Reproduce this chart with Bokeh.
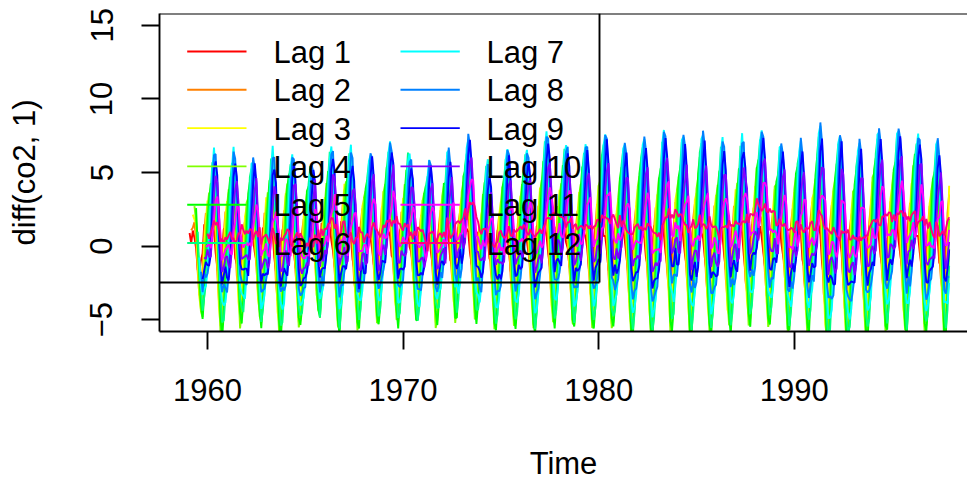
import numpy as np
from bokeh.plotting import figure
from bokeh.models import Range1d, FixedTicker, Span
from bokeh.core.properties import value
from bokeh.embed import file_html
from bokeh.resources import INLINE

# ---- data: monthly CO2 (ppm), Mauna Loa, read per year ----
co2_1959 = [315.42, 316.31, 316.50, 317.56, 318.13, 318.00, 316.39, 314.65, 313.68, 313.18, 314.66, 315.43]
co2_1960 = [316.27, 316.81, 317.42, 318.87, 319.87, 319.43, 318.01, 315.74, 314.00, 313.68, 314.84, 316.03]
co2_1961 = [316.73, 317.54, 318.38, 319.31, 320.42, 319.61, 318.42, 316.63, 314.83, 315.16, 315.94, 316.85]
co2_1962 = [317.78, 318.40, 319.53, 320.42, 320.85, 320.45, 319.45, 317.25, 316.11, 315.27, 316.53, 317.53]
co2_1963 = [318.58, 318.92, 319.70, 321.22, 322.08, 321.31, 319.58, 317.61, 316.05, 315.83, 316.91, 318.20]
co2_1964 = [319.41, 320.07, 320.74, 321.40, 322.06, 321.73, 320.27, 318.54, 316.54, 316.71, 317.53, 318.55]
co2_1965 = [319.27, 320.28, 320.73, 321.97, 322.00, 321.71, 321.05, 318.71, 317.66, 317.14, 318.70, 319.25]
co2_1966 = [320.46, 321.43, 322.23, 323.54, 323.91, 323.59, 322.24, 320.20, 318.48, 317.94, 319.63, 320.87]
co2_1967 = [322.17, 322.34, 322.88, 324.25, 324.83, 323.93, 322.38, 320.76, 319.10, 319.24, 320.56, 321.80]
co2_1968 = [322.40, 322.99, 323.73, 324.86, 325.40, 325.20, 323.98, 321.95, 320.18, 320.09, 321.16, 322.74]
co2_1969 = [323.83, 324.26, 325.47, 326.50, 327.21, 326.54, 325.72, 323.50, 322.22, 321.62, 322.69, 323.95]
co2_1970 = [324.89, 325.82, 326.77, 327.97, 327.91, 327.50, 326.18, 324.53, 322.93, 322.90, 323.85, 324.96]
co2_1971 = [326.01, 326.51, 327.01, 327.62, 328.76, 328.40, 327.20, 325.27, 323.20, 323.40, 324.63, 325.85]
co2_1972 = [326.60, 327.47, 327.58, 329.56, 329.90, 328.92, 327.88, 326.16, 324.68, 325.04, 326.34, 327.39]
co2_1973 = [328.37, 329.40, 330.14, 331.33, 332.31, 331.90, 330.70, 329.15, 327.35, 327.02, 327.99, 328.48]
co2_1974 = [329.18, 330.55, 331.32, 332.48, 332.92, 332.08, 331.01, 329.23, 327.27, 327.21, 328.29, 329.41]
co2_1975 = [330.23, 331.25, 331.87, 333.14, 333.80, 333.43, 331.73, 329.90, 328.40, 328.17, 329.32, 330.59]
co2_1976 = [331.58, 332.39, 333.33, 334.41, 334.71, 334.17, 332.89, 330.77, 329.14, 328.78, 330.14, 331.52]
co2_1977 = [332.75, 333.24, 334.53, 335.90, 336.57, 336.10, 334.76, 332.59, 331.42, 330.98, 332.24, 333.68]
co2_1978 = [334.80, 335.22, 336.47, 337.59, 337.84, 337.72, 336.37, 334.51, 332.60, 332.38, 333.75, 334.78]
co2_1979 = [336.05, 336.59, 337.79, 338.71, 339.30, 339.12, 337.56, 335.92, 333.75, 333.70, 335.12, 336.56]
co2_1980 = [337.84, 338.19, 339.91, 340.60, 341.29, 341.00, 339.39, 337.43, 335.72, 335.84, 336.93, 338.04]
co2_1981 = [339.06, 340.30, 341.21, 342.33, 342.74, 342.08, 340.32, 338.26, 336.52, 336.68, 338.19, 339.44]
co2_1982 = [340.57, 341.44, 342.53, 343.39, 343.96, 343.18, 341.88, 339.65, 337.81, 337.69, 339.09, 340.32]
co2_1983 = [341.20, 342.35, 342.93, 344.77, 345.58, 345.14, 343.81, 342.21, 339.69, 339.82, 340.98, 342.82]
co2_1984 = [343.52, 344.33, 345.11, 346.88, 347.25, 346.62, 345.22, 343.11, 340.90, 341.18, 342.80, 344.04]
co2_1985 = [344.79, 345.82, 347.25, 348.17, 348.74, 348.07, 346.38, 344.51, 342.92, 342.62, 344.06, 345.38]
co2_1986 = [346.11, 346.78, 347.68, 349.37, 350.03, 349.37, 347.76, 345.73, 344.68, 343.99, 345.48, 346.72]
co2_1987 = [347.84, 348.29, 349.23, 350.80, 351.66, 351.07, 349.33, 347.92, 346.27, 346.18, 347.64, 348.78]
co2_1988 = [350.25, 351.54, 352.05, 353.41, 354.04, 353.62, 352.22, 350.27, 348.55, 348.72, 349.91, 351.18]
co2_1989 = [352.60, 352.92, 353.53, 355.26, 355.52, 354.97, 353.75, 351.52, 349.64, 349.83, 351.14, 352.37]
co2_1990 = [353.50, 354.55, 355.23, 356.04, 357.00, 356.07, 354.67, 352.76, 350.82, 351.04, 352.69, 354.07]
co2_1991 = [354.59, 355.63, 357.03, 358.48, 359.22, 358.12, 356.06, 353.92, 352.05, 352.11, 353.64, 354.89]
co2_1992 = [355.88, 356.63, 357.72, 359.07, 359.58, 359.17, 356.94, 354.92, 352.94, 353.23, 354.09, 355.33]
co2_1993 = [356.63, 357.10, 358.32, 359.41, 360.23, 359.55, 357.53, 355.48, 353.67, 353.95, 355.30, 356.78]
co2_1994 = [358.34, 358.89, 359.95, 361.25, 361.67, 360.94, 359.55, 357.49, 355.84, 356.00, 357.59, 359.05]
co2_1995 = [359.98, 361.03, 361.66, 363.48, 363.82, 363.30, 361.94, 359.50, 358.11, 357.80, 359.61, 360.74]
co2_1996 = [362.09, 363.29, 364.06, 364.76, 365.45, 365.01, 363.70, 361.54, 359.51, 359.65, 360.80, 362.38]
co2_1997 = [363.23, 364.06, 364.61, 366.40, 366.84, 365.68, 364.52, 362.57, 360.24, 360.83, 362.49, 364.34]

start_year = 1959
lags = [1, 2, 3, 4, 5, 6, 7, 8, 9, 10, 11, 12]
lag_labels = ["Lag 1", "Lag 2", "Lag 3", "Lag 4", "Lag 5", "Lag 6",
              "Lag 7", "Lag 8", "Lag 9", "Lag 10", "Lag 11", "Lag 12"]
lag_colors = ["#FF0000", "#FF8000", "#FFFF00", "#80FF00", "#00FF00", "#00FF80",
              "#00FFFF", "#0080FF", "#0000FF", "#8000FF", "#FF00FF", "#FF0080"]
x_ticks = [1960, 1970, 1980, 1990]
y_ticks = [-5, 0, 5, 10, 15]
y_tick_labels = ["\u22125", "0", "5", "10", "15"]
x_title = "Time"
y_title = "diff(co2, 1)"

co2 = np.array(co2_1959 + co2_1960 + co2_1961 + co2_1962 + co2_1963 + co2_1964 +
               co2_1965 + co2_1966 + co2_1967 + co2_1968 + co2_1969 + co2_1970 +
               co2_1971 + co2_1972 + co2_1973 + co2_1974 + co2_1975 + co2_1976 +
               co2_1977 + co2_1978 + co2_1979 + co2_1980 + co2_1981 + co2_1982 +
               co2_1983 + co2_1984 + co2_1985 + co2_1986 + co2_1987 + co2_1988 +
               co2_1989 + co2_1990 + co2_1991 + co2_1992 + co2_1993 + co2_1994 +
               co2_1995 + co2_1996 + co2_1997)
n = len(co2)

# ---- layout ----
W, H = 967, 483
BL, BR, BT, BB = 159, 0, 13, 152
X0 = 1957.5467
PX_PER_YEAR = 19.56
X1 = X0 + (W - BL - BR) / PX_PER_YEAR
Y0, Y1 = -5.8, 15.8
FRAME_H = H - BT - BB

def px2x(px):
    return X0 + (px - BL) / PX_PER_YEAR

def py2y(py):
    return Y1 - (py - BT) * (Y1 - Y0) / FRAME_H

FONT = "Liberation Sans"
FS = "31px"
LW = 1.9

p = figure(width=W, height=H, x_range=Range1d(X0, X1), y_range=Range1d(Y0, Y1),
           output_backend="svg", toolbar_location=None,
           min_border_left=BL, min_border_right=BR, min_border_top=BT, min_border_bottom=BB,
           outline_line_color=None, background_fill_color="white", border_fill_color="white")
p.grid.visible = False

for ax in (p.xaxis[0], p.yaxis[0]):
    ax.axis_line_color = "black"
    ax.axis_line_width = LW
    ax.major_tick_line_color = "black"
    ax.major_tick_line_width = LW
    ax.major_tick_out = 18
    ax.major_tick_in = 0
    ax.minor_tick_out = 0
    ax.minor_tick_in = 0
    ax.major_label_text_font = FONT
    ax.major_label_text_font_size = FS
    ax.major_label_text_color = "black"
    ax.axis_label_text_font = FONT
    ax.axis_label_text_font_size = FS
    ax.axis_label_text_font_style = "normal"
    ax.axis_label_text_color = "black"

p.xaxis[0].ticker = FixedTicker(ticks=x_ticks)
p.xaxis[0].major_label_standoff = 29
p.xaxis[0].axis_label = x_title
p.xaxis[0].axis_label_standoff = 42
p.yaxis[0].ticker = FixedTicker(ticks=y_ticks)
p.yaxis[0].major_label_overrides = {t: s for t, s in zip(y_ticks, y_tick_labels)}
p.yaxis[0].major_label_orientation = "parallel"
p.yaxis[0].major_label_standoff = 29
p.yaxis[0].axis_label = y_title
p.yaxis[0].axis_label_standoff = 46

# top edge of the box
p.add_layout(Span(location=Y1, dimension="width", line_color="black", line_width=LW))

# ---- series: diff(co2, k) ----
for k, col in zip(lags, lag_colors):
    t = start_year + (np.arange(n - k) + k) / 12.0
    d = co2[k:] - co2[:-k]
    p.line(t, d, line_color=col, line_width=LW)

# ---- legend (drawn over the series, no background) ----
row_y_px = [51 + i * 38.3 for i in range(6)]
col_line_px = [(186.7, 246.0), (400.0, 459.3)]
col_text_px = [273.0, 486.0]
leg_x0, leg_x1, leg_y, leg_tx, leg_ty = [], [], [], [], []
for i, lab in enumerate(lag_labels):
    c, r = divmod(i, 6)
    leg_x0.append(px2x(col_line_px[c][0]))
    leg_x1.append(px2x(col_line_px[c][1]))
    leg_y.append(py2y(row_y_px[r]))
    leg_tx.append(px2x(col_text_px[c]))
    leg_ty.append(py2y(row_y_px[r] + 1))
p.segment(x0=leg_x0, y0=leg_y, x1=leg_x1, y1=leg_y, line_color=lag_colors, line_width=LW)
p.text(x=leg_tx, y=leg_ty, text=lag_labels, text_font=value(FONT), text_font_size=FS,
       text_color="black", text_align="left", text_baseline="middle")

# legend box right / bottom edges
p.segment(x0=[X0, px2x(599)], y0=[py2y(282), Y1], x1=[px2x(599), px2x(599)], y1=[py2y(282), py2y(282)],
          line_color="black", line_width=LW)

open("out.html", "w").write(file_html(p, INLINE))
